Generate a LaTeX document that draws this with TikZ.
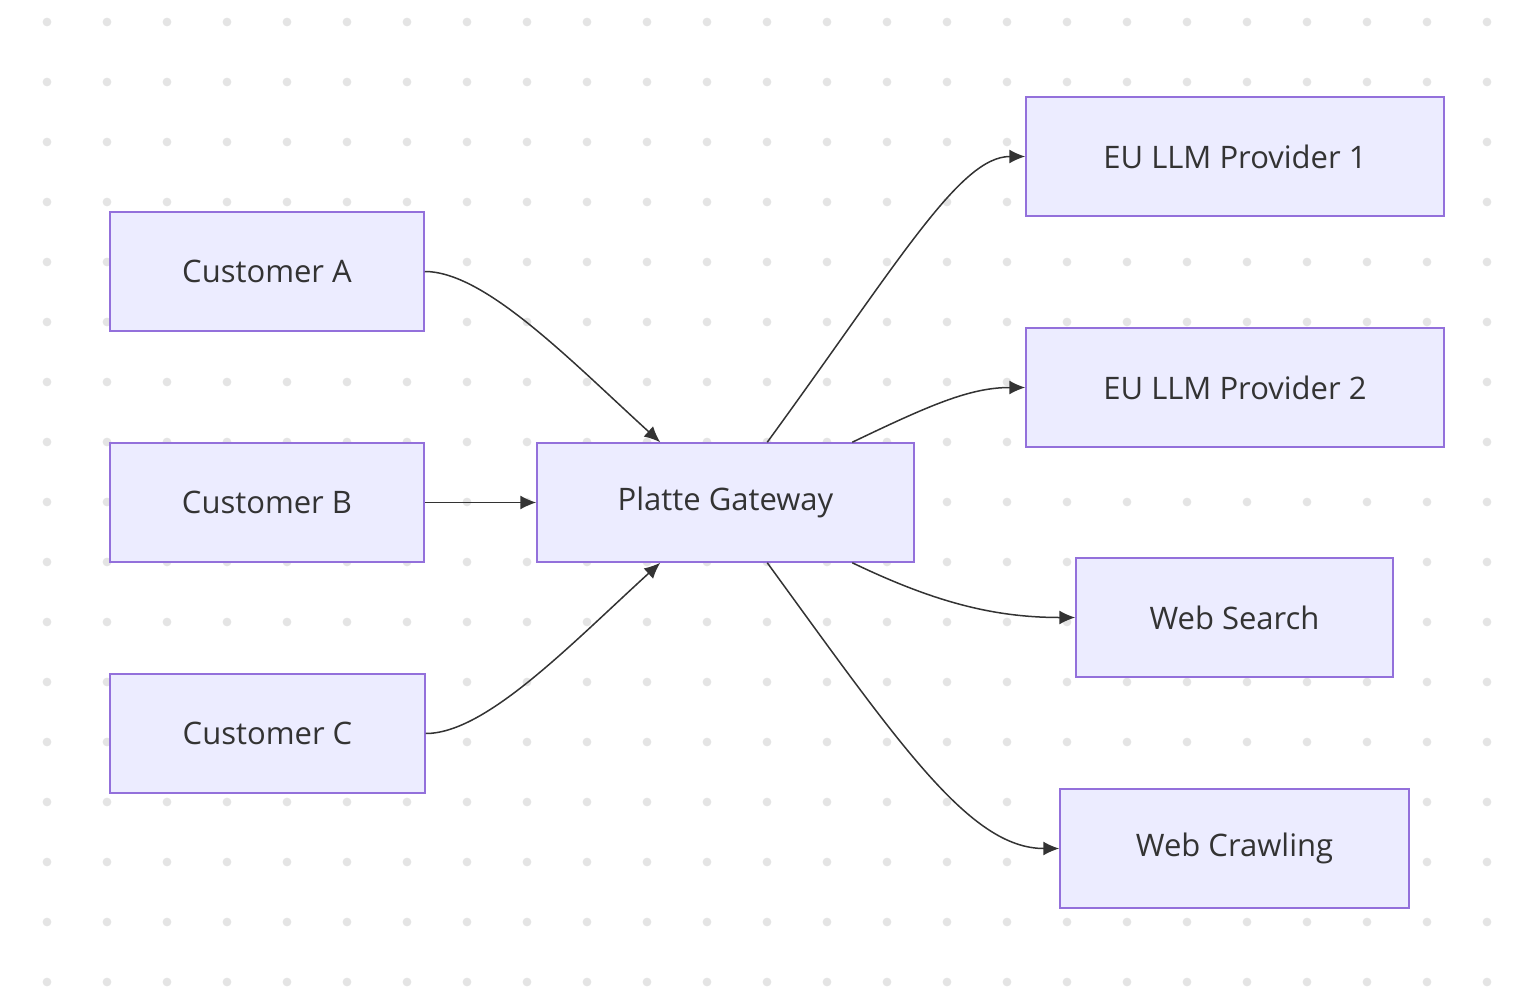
\documentclass[tikz,border=0pt]{standalone}
\usepackage{fontspec}
\setmainfont{Open Sans}
\usetikzlibrary{arrows.meta,calc}
\definecolor{boxfill}{HTML}{ECECFF}
\definecolor{boxline}{HTML}{9370DB}
\definecolor{edge}{HTML}{333333}
\definecolor{dots}{HTML}{E4E4E4}
\tikzset{
  box/.style = {draw=boxline, fill=boxfill, line width=0.75pt, minimum height=59.5pt,
                inner sep=0pt, font=\fontsize{15.5}{18}\selectfont, text=edge},
  link/.style = {draw=edge, line width=0.75pt, -{Latex[length=8pt,width=7pt]}}
}
\begin{document}
\begin{tikzpicture}[x=0.5pt, y=-0.5pt]
\useasboundingbox (0,0) rectangle (1514,990);
\foreach \i in {0,...,24}
  \foreach \j in {0,...,16}
    \fill[dots] (47+60*\i,22+60*\j) circle (2.2pt);
\node[box, minimum width=157pt] (ca) at (267,271.5) {Customer A};
\node[box, minimum width=157pt] (cb) at (267,502.5) {Customer B};
\node[box, minimum width=157.5pt] (cc) at (267.5,733.5) {Customer C};
\node[box, minimum width=188.5pt] (gw) at (725.5,502.5) {Platte Gateway};
\node[box, minimum width=209pt] (eu1) at (1235,156.5) {EU LLM Provider 1};
\node[box, minimum width=209pt] (eu2) at (1235,387.5) {EU LLM Provider 2};
\node[box, minimum width=158.5pt] (ws) at (1234.5,617.5) {Web Search};
\node[box, minimum width=174.5pt] (wc) at (1234.5,848.5) {Web Crawling};
% inputs
\draw[link] (ca.east) .. controls ($(ca.east)+(60,0)$) and (570,360) .. ($(gw.north west)+(124,0)$);
\draw[link] (cb.east) -- (gw.west);
\draw[link] (cc.east) .. controls ($(cc.east)+(60,0)$) and (570,645) .. ($(gw.south west)+(124,0)$);
% outputs
\draw[link] ($(gw.north west)+(231,0)$) .. controls (900,260) and (960,156.5) .. (eu1.west);
\draw[link] ($(gw.north west)+(316,0)$) .. controls (930,405) and (970,387.5) .. (eu2.west);
\draw[link] ($(gw.south west)+(316,0)$) .. controls (930,600) and (990,617.5) .. (ws.west);
\draw[link] ($(gw.south west)+(231,0)$) .. controls (900,745) and (970,848.5) .. (wc.west);
\end{tikzpicture}
\end{document}
